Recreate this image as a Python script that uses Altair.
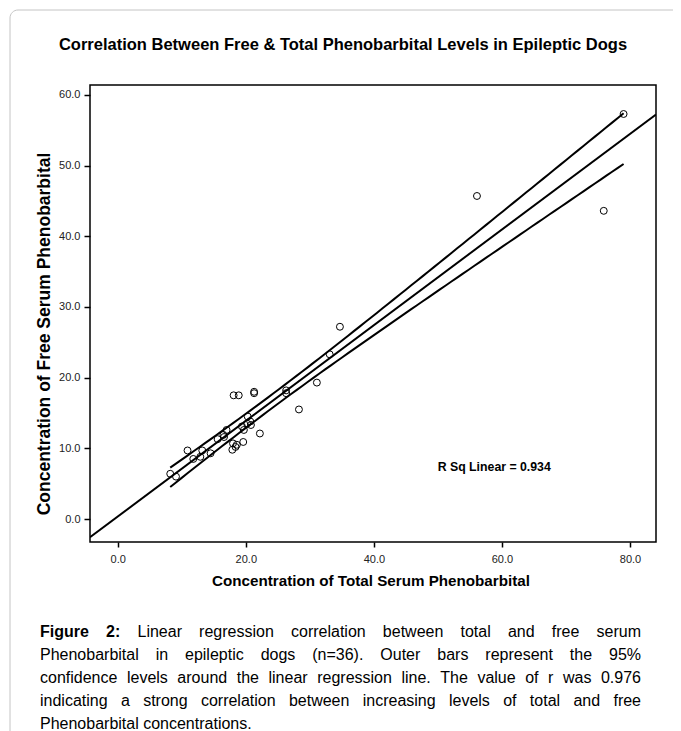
import altair as alt
import numpy as np
import pandas as pd

# ---- data ----
total_pb = [8.2, 9.1, 10.9, 11.8, 12.9, 13.2, 14.5, 15.6, 16.5, 17.0,
            18.1, 18.9, 21.3, 21.3, 18.0, 18.4, 17.9, 19.6, 22.2, 20.2,
            20.7, 19.4, 19.7, 20.3, 26.3, 26.3, 28.3, 31.1, 33.1, 34.7,
            56.1, 75.9, 79.0, 18.6, 20.8, 16.6]
free_pb = [6.4, 6.0, 9.7, 8.5, 8.8, 9.7, 9.3, 11.3, 11.9, 12.6,
           17.5, 17.5, 18.0, 17.8, 10.7, 10.2, 9.8, 10.9, 12.1, 13.5,
           13.8, 13.1, 12.6, 14.5, 18.2, 17.8, 15.5, 19.3, 23.3, 27.2,
           45.7, 43.6, 57.3, 10.5, 13.3, 11.6]

x_ticks = [0, 20, 40, 60, 80]
y_ticks = [0, 10, 20, 30, 40, 50, 60]
x_domain = [-4.33, 84.06]
y_domain = [-3.25, 61.4]

title_text = "Correlation Between Free & Total Phenobarbital Levels in Epileptic Dogs"
x_title = "Concentration of Total Serum Phenobarbital"
y_title = "Concentration of Free Serum Phenobarbital"
rsq_label = ["R Sq Linear = 0.934"]
rsq_pos = [58.8, 7.4]

caption_bold = "Figure 2:"
caption_lines = [
    "Linear regression correlation between total and free serum",
    "Phenobarbital in epileptic dogs (n=36). Outer bars represent the 95%",
    "confidence levels around the linear regression line. The value of r was 0.976",
    "indicating a strong correlation between increasing levels of total and free",
    "Phenobarbital concentrations.",
]

W, H = 566, 457
FONT = "Liberation Sans"

# ---- regression with 95% mean confidence band (derived from the data) ----
x = np.array(total_pb)
y = np.array(free_pb)
n = len(x)
b1, b0 = np.polyfit(x, y, 1)
resid = y - (b0 + b1 * x)
s = np.sqrt(np.sum(resid ** 2) / (n - 2))
sxx = np.sum((x - x.mean()) ** 2)
t_crit = 2.032  # t(0.975, 34)

fit_df = pd.DataFrame({"x": x_domain, "y": [b0 + b1 * v for v in x_domain]})
xs = np.linspace(x.min(), x.max(), 80)
half = t_crit * s * np.sqrt(1 / n + (xs - x.mean()) ** 2 / sxx)
ci_df = pd.concat([
    pd.DataFrame({"x": xs, "y": b0 + b1 * xs + half, "band": "upper"}),
    pd.DataFrame({"x": xs, "y": b0 + b1 * xs - half, "band": "lower"}),
])
pts_df = pd.DataFrame({"total": total_pb, "free": free_pb})

xscale = alt.Scale(domain=x_domain, nice=False, zero=False)
yscale = alt.Scale(domain=y_domain, nice=False, zero=False)

xaxis = alt.Axis(values=x_ticks, format=".1f", title=None, domain=False, grid=False,
                 tickColor="black", tickSize=5, tickWidth=1.5, labelFont=FONT,
                 labelFontSize=11, labelColor="#222", labelPadding=6)
yaxis = alt.Axis(values=y_ticks, format=".1f", title=None, domain=False, grid=False,
                 tickColor="black", tickSize=6, tickWidth=1.5, labelFont=FONT,
                 labelFontSize=11, labelColor="#222", labelPadding=4)

points = alt.Chart(pts_df).mark_point(shape="circle", filled=False, color="black",
                                      size=48, strokeWidth=1, opacity=1).encode(
    x=alt.X("total:Q", scale=xscale, axis=xaxis),
    y=alt.Y("free:Q", scale=yscale, axis=yaxis),
)

fit_line = alt.Chart(fit_df).mark_line(color="black", strokeWidth=2, clip=True).encode(
    x=alt.X("x:Q", scale=xscale), y=alt.Y("y:Q", scale=yscale))

ci_lines = alt.Chart(ci_df).mark_line(color="black", strokeWidth=2, clip=True).encode(
    x=alt.X("x:Q", scale=xscale), y=alt.Y("y:Q", scale=yscale), detail="band:N")

rsq = alt.Chart(pd.DataFrame({"t": rsq_label, "x": [rsq_pos[0]], "y": [rsq_pos[1]]})).mark_text(
    font=FONT, fontSize=12.3, fontWeight="bold", color="black").encode(
    x=alt.X("x:Q", scale=xscale), y=alt.Y("y:Q", scale=yscale), text="t:N")

# decorative outer frame
frame = alt.Chart(pd.DataFrame({"a": [0]})).mark_rect(
    fill=None, stroke="#c4c4c4", strokeWidth=1, cornerRadius=8).encode(
    x=alt.value(-80), x2=alt.value(700), y=alt.value(-75), y2=alt.value(800))

title = alt.Chart(pd.DataFrame({"t": [title_text]})).mark_text(
    font=FONT, fontSize=16.5, fontWeight="bold", color="black", align="center",
    baseline="middle").encode(text="t:N", x=alt.value(253), y=alt.value(-40))

xt = alt.Chart(pd.DataFrame({"t": [x_title]})).mark_text(
    font=FONT, fontSize=15.2, fontWeight="bold", color="black", align="center",
    baseline="middle").encode(text="t:N", x=alt.value(281), y=alt.value(496))

yt = alt.Chart(pd.DataFrame({"t": [y_title]})).mark_text(
    font=FONT, fontSize=17.5, fontWeight="bold", color="black", align="center",
    baseline="middle", angle=270).encode(text="t:N", x=alt.value(-45), y=alt.value(249))

# ---- justified caption (Arial/Liberation Sans metrics) ----
REG = {" ": 278, "%": 889, "(": 333, ")": 333, ".": 278, ",": 278, ":": 278, "=": 584,
       "P": 667, "O": 778, "T": 611, "a": 556, "b": 556, "c": 500, "d": 556, "e": 556,
       "f": 278, "g": 556, "h": 556, "i": 222, "l": 222, "m": 833, "n": 556, "o": 556,
       "p": 556, "r": 333, "s": 500, "t": 278, "u": 556, "v": 500, "w": 722, "y": 500}
BOLD = {"F": 611, "i": 278, "g": 611, "u": 611, "r": 389, "e": 556, ":": 333}
for d in "0123456789":
    REG[d] = 556
    BOLD[d] = 556

CAP_FS = 16
CAP_X0, CAP_X1 = -50, 551   # relative to the plot's left edge
cap_y0, cap_dy = 547, 23.0


def wwidth(word, bold):
    table = BOLD if bold else REG
    return sum(table.get(c, 556) for c in word) / 1000 * CAP_FS


rows = []
all_lines = [[(w, True) for w in caption_bold.split()] + [(w, False) for w in caption_lines[0].split()]]
all_lines += [[(w, False) for w in ln.split()] for ln in caption_lines[1:]]
for i, words in enumerate(all_lines):
    widths = [wwidth(w, b) for w, b in words]
    if i < len(all_lines) - 1:
        gap = (CAP_X1 - CAP_X0 - sum(widths)) / (len(words) - 1)
    else:
        gap = REG[" "] / 1000 * CAP_FS
    xpos = CAP_X0
    for (w, b), wd in zip(words, widths):
        rows.append({"word": w, "bold": "bold" if b else "normal", "px": xpos,
                     "py": cap_y0 + i * cap_dy})
        xpos += wd + gap
cap_df = pd.DataFrame(rows)

cap_norm = alt.Chart(cap_df[cap_df["bold"] == "normal"]).mark_text(
    font=FONT, fontSize=CAP_FS, color="black", align="left", baseline="middle").encode(
    text="word:N", x=alt.X("px:Q", scale=None), y=alt.Y("py:Q", scale=None))
cap_bold = alt.Chart(cap_df[cap_df["bold"] == "bold"]).mark_text(
    font=FONT, fontSize=CAP_FS, fontWeight="bold", color="black", align="left",
    baseline="middle").encode(
    text="word:N", x=alt.X("px:Q", scale=None), y=alt.Y("py:Q", scale=None))

chart = alt.layer(frame, fit_line, ci_lines, points, rsq, title, xt, yt, cap_norm,
                  cap_bold).properties(
    width=W, height=H,
    autosize=alt.AutoSizeParams(type="none"),
    padding={"left": 82, "top": 77, "right": 17, "bottom": 200},
    background="white",
).configure_view(stroke="black", strokeWidth=1.5)

chart.save("out.html", embed_options={"renderer": "svg", "actions": False})
